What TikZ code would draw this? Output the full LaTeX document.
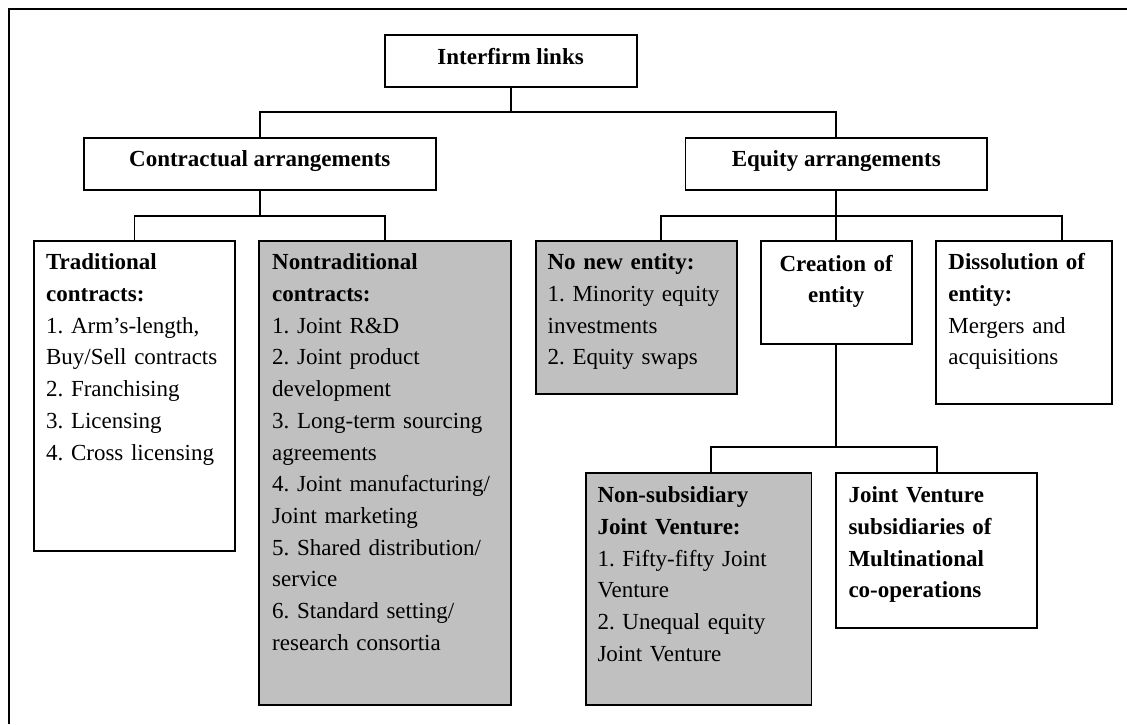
\documentclass[tikz,border=0pt]{standalone}
\usepackage{fontspec}
\setmainfont{Liberation Serif}
\definecolor{boxgray}{HTML}{C0C0C0}
\frenchspacing
\begin{document}
\begin{tikzpicture}[x=1pt,y=-1pt,
  box/.style={draw, line width=1.8pt, inner sep=0pt, fill=white},
  shaded/.style={box, fill=boxgray},
  conn/.style={line width=1.8pt},
  txt/.style={anchor=base west, inner sep=0pt, align=left, text width=#1,
    font=\fontsize{23}{31.7}\selectfont},
  head/.style={anchor=base, inner sep=0pt, align=center,
    font=\fontsize{23}{31.7}\selectfont\bfseries}]
\useasboundingbox (0,0) rectangle (1127,724);

% frame (open to the right and bottom)
\draw[conn] (8.6,724) -- (8.6,9.3) -- (1127,9.3);

% boxes
\node[box, minimum width=252pt, minimum height=52pt] (ifl) at (510.6,60.7) {};
\node[box, minimum width=352.2pt, minimum height=52.3pt] (cont) at (259.8,163.85) {};
\node[box, minimum width=301.7pt, minimum height=52.3pt] (eq) at (836.25,163.85) {};
\node[box, minimum width=201.4pt, minimum height=310.3pt] (trad) at (134.5,395.85) {};
\node[shaded, minimum width=251.8pt, minimum height=464.6pt] (nontrad) at (385.1,473) {};
\node[shaded, minimum width=201.1pt, minimum height=153pt] (nonew) at (636.25,317.2) {};
\node[box, minimum width=150.9pt, minimum height=103.3pt] (creat) at (836.25,292.35) {};
\node[box, minimum width=175.9pt, minimum height=163.6pt] (diss) at (1024.05,322.5) {};
\node[shaded, minimum width=225.9pt, minimum height=232.3pt] (nonsub) at (698.55,589.15) {};
\node[box, minimum width=200.8pt, minimum height=154.7pt] (jvs) at (936.6,550.35) {};

% texts
\node[head] (iflT) at (510.6,64) {Interfirm links};
\node[head] (contT) at (259.8,166.7) {Contractual arrangements};
\node[head] (eqT) at (836.25,166.7) {Equity arrangements};
\node[head, text width=140pt] (creatT) at (836.25,271) {Creation of\\entity};

\node[txt=190pt, xshift=13pt, yshift=-30pt] (tradT) at (trad.north west)
  {\textbf{Traditional}\\\textbf{contracts:}\\1. Arm's-length,\\Buy/Sell contracts\\2. Franchising\\3. Licensing\\4. Cross licensing};
\node[txt=240pt, xshift=13.7pt, yshift=-30pt] (nontradT) at (nontrad.north west)
  {\textbf{Nontraditional}\\\textbf{contracts:}\\1. Joint R\&D\\2. Joint product\\development\\3. Long-term sourcing\\agreements\\4. Joint manufacturing/\\Joint marketing\\5. Shared distribution/\\service\\6. Standard setting/\\research consortia};
\node[txt=190pt, xshift=12.6pt, yshift=-30pt] (nonewT) at (nonew.north west)
  {\textbf{No new entity:}\\1. Minority equity\\investments\\2. Equity swaps};
\node[txt=165pt, xshift=13pt, yshift=-30pt] (dissT) at (diss.north west)
  {\textbf{Dissolution of}\\\textbf{entity:}\\Mergers and\\acquisitions};
\node[txt=215pt, xshift=12.6pt, yshift=-30.7pt] (nonsubT) at (nonsub.north west)
  {\textbf{Non-subsidiary}\\\textbf{Joint Venture:}\\1. Fifty-fifty Joint\\Venture\\2. Unequal equity\\Joint Venture};
\node[txt=190pt, xshift=13pt, yshift=-30.7pt, font=\fontsize{23}{31.7}\selectfont\bfseries] (jvsT) at (jvs.north west)
  {Joint Venture\\subsidiaries of\\Multinational\\co-operations};

% connectors
\coordinate (j0) at (510.6,112.3);
\draw[conn] (ifl.south) -- (j0);
\draw[conn] (cont.north) |- (j0) -| (eq.north);

\coordinate (j1) at (259.8,215.7);
\draw[conn] (cont.south) -- (j1);
\draw[conn] (trad.north) |- (j1) -| (nontrad.north);

\coordinate (j2) at (836.25,215.7);
\coordinate (s1) at (661,0);
\coordinate (s2) at (1061.7,0);
\draw[conn] (eq.south) -- (creat.north);
\draw[conn] (nonew.north -| s1) |- (j2) -| (diss.north -| s2);

\coordinate (j3) at (836.25,447);
\coordinate (s3) at (710.6,0);
\draw[conn] (creat.south) -- (j3);
\draw[conn] (nonsub.north -| s3) |- (j3) -| (jvs.north);
\end{tikzpicture}
\end{document}
